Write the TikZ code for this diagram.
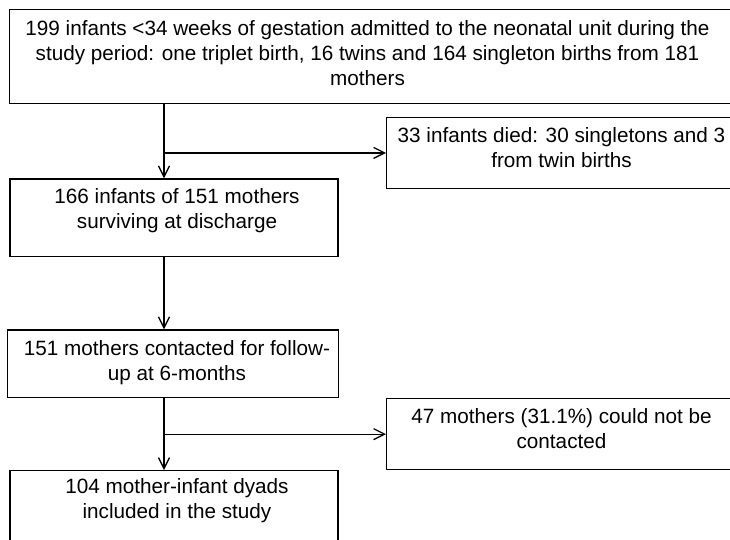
\documentclass[tikz,border=0pt]{standalone}
\usepackage{fontspec}
\setmainfont{Liberation Sans}
\usetikzlibrary{arrows.meta}
\begin{document}
\begin{tikzpicture}[x=1pt,y=-1pt,
  boxline/.style={draw=black, line width=1.3pt, rectangle, inner sep=0pt, anchor=north west},
  txt/.style={inner sep=0pt, anchor=base, font=\fontsize{20.7}{25}\selectfont},
  conn/.style={line width=1.3pt, -{Straight Barb[length=11pt,width=11pt]}}]
\useasboundingbox (0,0) rectangle (730,539);
\clip (0,0) rectangle (730,539);
% boxes
\node[boxline, minimum width=722pt, minimum height=94.5pt] (top) at (9,8.5) {};
\node[boxline, minimum width=364pt, minimum height=70.5pt] (died) at (386,117) {};
\node[boxline, minimum width=328pt, minimum height=77.7pt] (b2) at (9.3,178.3) {};
\node[boxline, minimum width=331pt, minimum height=67.2pt] (b3) at (7,329.3) {};
\node[boxline, minimum width=364pt, minimum height=71pt] (lost) at (386,398) {};
\node[boxline, minimum width=328pt, minimum height=90pt] (b5) at (9.3,470) {};
% texts
\node[txt] (ttop) at (367.5,35.5) {\begin{tabular}[t]{@{}c@{}}199 infants <34 weeks of gestation admitted to the neonatal unit during the\\ study period: one triplet birth, 16 twins and 164 singleton births from 181\\ mothers\end{tabular}};
\node[txt] (tdied) at (561.5,142.3) {\begin{tabular}[t]{@{}c@{}}33 infants died: 30 singletons and 3\\ from twin births\end{tabular}};
\node[txt] (tb2) at (177,203.3) {\begin{tabular}[t]{@{}c@{}}166 infants of 151 mothers\\ surviving at discharge\end{tabular}};
\node[txt] (tb3) at (177,355) {\begin{tabular}[t]{@{}c@{}}151 mothers contacted for follow-\\ up at 6-months\end{tabular}};
\node[txt] (tlost) at (561.5,423.3) {\begin{tabular}[t]{@{}c@{}}47 mothers (31.1\%) could not be\\ contacted\end{tabular}};
\node[txt] (tb5) at (177,493) {\begin{tabular}[t]{@{}c@{}}104 mother-infant dyads\\ included in the study\end{tabular}};
% connectors
\coordinate (tr) at (164,0);
\draw[conn] (top.south -| tr) -- (b2.north -| tr);
\draw[conn] (tr |- died.west) -- (died.west);
\draw[conn] (b2.south -| tr) -- (b3.north -| tr);
\draw[conn] (b3.south -| tr) -- (b5.north -| tr);
\draw[conn] (tr |- lost.west) -- (lost.west);
\end{tikzpicture}
\end{document}
